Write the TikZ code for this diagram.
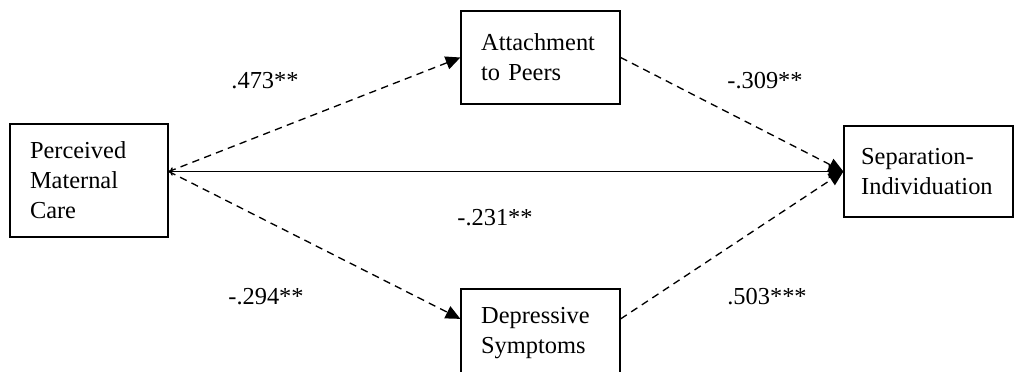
\documentclass[tikz,border=0pt]{standalone}
\usepackage{fontspec}
\setmainfont{Liberation Serif}
\usetikzlibrary{arrows.meta}

\begin{document}
\begin{tikzpicture}[x=0.75pt, y=-0.75pt, font=\fontsize{18.3}{22.5}\selectfont,
  main node/.style={draw, line width=1.2pt, align=left, inner xsep=15pt, anchor=center},
  path line/.style={line width=1pt, dash pattern=on 5.5pt off 4pt, -{Triangle[length=11pt, width=10pt]}},
  coef/.style={inner sep=0pt}]
\useasboundingbox (0,0) rectangle (1016,371);
\node[main node, minimum width=118.5pt, minimum height=84.5pt, text width=88.5pt] (p) at (89,180.5) {Perceived\\Maternal\\Care};
\node[main node, minimum width=119pt, minimum height=70pt, text width=89pt]   (a) at (540.5,57.5) {Attachment\\to Peers};
\node[main node, minimum width=119pt, minimum height=66pt, text width=89pt]     (d) at (540.5,333) {Depressive\\Symptoms};
\node[main node, minimum width=126.5pt, minimum height=68pt, text width=101pt, inner xsep=12.75pt] (s) at (928.5,171.5) {Separation-\\Individuation};
\draw[path line] (p.east |- s.west) -- (a.west);
\draw[path line] (p.east |- s.west) -- (d.170);
\draw[path line] (a.east) -- (s.west);
\draw[path line] (d.10) -- (s.west);
\draw[line width=1.1pt, {To[length=3pt]}-{Triangle[length=11pt, width=10pt]}] (p.east |- s.west) -- (s.west);
\node[coef] (l1) at (265,81) {.473**};
\node[coef] (l2) at (765,81) {-.309**};
\node[coef] (l3) at (495,218) {-.231**};
\node[coef] (l4) at (266,297) {-.294**};
\node[coef] (l5) at (767,297) {.503***};
\end{tikzpicture}
\end{document}
